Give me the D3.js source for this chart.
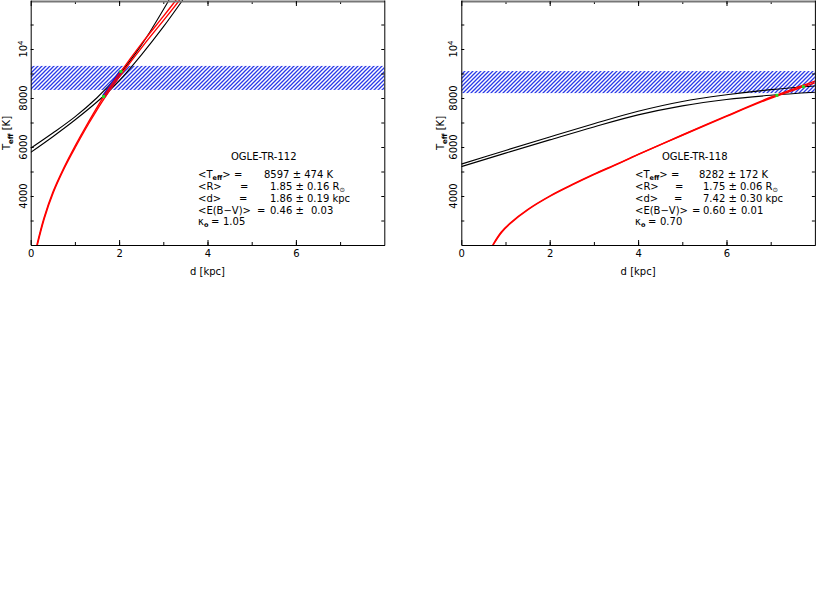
<!DOCTYPE html>
<html><head><meta charset="utf-8">
<script src="https://cdn.jsdelivr.net/npm/d3@7"></script>
<style>
body{margin:0;background:#fff}
svg{display:block}
text{font-family:"DejaVu Sans",sans-serif;fill:#000}
</style>
</head><body>
<svg id="c" width="817" height="599"></svg>
<script>
// ---------- shared axis data ----------
const dDomain = [0, 8];
const tDomain = [2000, 12000];
const dMajorTicks = [0, 2, 4, 6];
const dMinorTicks = [1, 2, 3, 4, 5, 6, 7];
const tMajorTicks = [4000, 6000, 8000, 10000];
const tMajorLabels = ["4000", "6000", "8000", "10|4"];
const tMinorTicks = [3000, 4000, 5000, 6000, 7000, 8000, 9000, 10000, 11000];
const xLabel = "d [kpc]";

// ---------- OGLE-TR-112 (left) ----------
const a_blackUpper = [[0,5950],[0.5,6570],[1.0,7230],[1.5,8010],[2.0,8960],[2.5,10150],[2.8,11000],[3.13,12000]];
const a_blackLower = [[0,5780],[0.5,6420],[1.0,7100],[1.6,8000],[2.0,8700],[2.5,9750],[3.0,10900],[3.44,12000]];
const a_red1 = [[0.14,2000],[0.3,3100],[0.5,4150],[0.75,5150],[1.0,6030],[1.3,7000],[1.65,8060],[2.04,9080],[2.5,10200],[3.0,11330],[3.29,12000]];
const a_red2 = [[0.15,2000],[0.31,3090],[0.51,4130],[0.76,5130],[1.02,6020],[1.32,6980],[1.68,8030],[2.08,9040],[2.55,10150],[3.06,11290],[3.37,12000]];
const a_band = [8330, 9310];
const a_solution = [[1.65,8060],[2.04,9080]];
const a_name = "OGLE-TR-112";
const a_teff = "8597 ± 474 K";
const a_r = "1.85 ± 0.16 R";
const a_d = "1.86 ± 0.19 kpc";
const a_ebv = ["0.46 ±", "0.03"];
const a_kappa = "1.05";

// ---------- OGLE-TR-118 (right) ----------
const b_blackUpper = [[0,5300],[1,5860],[2,6410],[3,6950],[4,7460],[5,7860],[6,8130],[7,8340],[8,8490]];
const b_blackLower = [[0,5200],[1,5750],[2,6290],[3,6820],[4,7310],[5,7680],[6,7940],[7,8110],[8,8232]];
const b_red1 = [[0.71,2000],[0.9,2520],[1.1,2890],[1.5,3450],[2.0,4000],[2.5,4460],[3.0,4890],[3.5,5290],[4.0,5700],[5.0,6480],[6.0,7250],[7.0,7990],[7.74,8461],[8.0,8620]];
const b_red2 = [[0.72,2000],[0.91,2510],[1.11,2880],[1.51,3440],[2.01,3990],[2.51,4450],[3.01,4880],[3.51,5285],[4.01,5700],[5.0,6490],[6.0,7270],[7.0,8030],[7.74,8520],[8.0,8690]];
const b_band = [8200, 9100];
const b_solution = [[7.14,8110],[7.74,8461]];
const b_name = "OGLE-TR-118";
const b_teff = "8282 ± 172 K";
const b_r = "1.75 ± 0.06 R";
const b_d = "7.42 ± 0.30 kpc";
const b_ebv = ["0.60 ±", "0.01"];
const b_kappa = "0.70";

// ---------- drawing ----------
const svg = d3.select("#c");
const defs = svg.append("defs");
const pat = defs.append("pattern").attr("id","hatch").attr("patternUnits","userSpaceOnUse")
  .attr("width",4).attr("height",4);
pat.append("path").attr("d","M-1,1 L1,-1 M0,4 L4,0 M3,5 L5,3")
  .attr("stroke","#2a3ae8").attr("stroke-width",1.3).attr("fill","none");

const y = d3.scaleLinear().domain(tDomain).range([245, 0]);

function panel(cfg) {
  const x = d3.scaleLinear().domain(dDomain).range([cfg.x0, cfg.x1]);
  const g = svg.append("g");
  const cid = "clip" + cfg.id;
  defs.append("clipPath").attr("id", cid).append("rect")
    .attr("x", cfg.x0).attr("y", 0).attr("width", cfg.x1 - cfg.x0).attr("height", 245);
  const plot = g.append("g").attr("clip-path", `url(#${cid})`);

  plot.append("rect").attr("x", cfg.x0).attr("width", cfg.x1 - cfg.x0)
    .attr("y", y(cfg.band[1])).attr("height", y(cfg.band[0]) - y(cfg.band[1]))
    .attr("fill", "url(#hatch)");

  const line = d3.line().x(d => x(d[0])).y(d => y(d[1])).curve(d3.curveCatmullRom.alpha(0.5));
  [cfg.blackUpper, cfg.blackLower].forEach(s =>
    plot.append("path").attr("d", line(s)).attr("fill","none").attr("stroke","#000").attr("stroke-width",1.1));
  if (cfg.blueSeg) plot.append("path").attr("d", d3.line().x(d=>x(d[0])).y(d=>y(d[1]))(cfg.solution))
    .attr("stroke","#1c1cc8").attr("stroke-width",4).attr("fill","none");
  [cfg.red1, cfg.red2].forEach(s =>
    plot.append("path").attr("d", line(s)).attr("fill","none").attr("stroke","#ff0000").attr("stroke-width",1.4));
  plot.selectAll("rect.sol").data(cfg.solution).join("rect").attr("class","sol")
    .attr("x", d => x(d[0]) - 1.5).attr("y", d => y(d[1]) - 1.5).attr("width",3).attr("height",3)
    .attr("fill","#22dd22");

  const styleAx = sel => { sel.selectAll("line").attr("stroke","#000"); sel.select(".domain").attr("stroke","#000"); sel.selectAll("text").remove(); };
  g.append("g").attr("transform","translate(0,245)")
    .call(d3.axisBottom(x).tickValues(dMinorTicks).tickSize(-3).tickSizeOuter(0)).call(styleAx);
  const bx = g.append("g").attr("transform","translate(0,245)")
    .call(d3.axisBottom(x).tickValues(dMajorTicks).tickSize(-5).tickSizeOuter(0).tickPadding(5).tickFormat(d3.format("d")));
  bx.selectAll("line").attr("stroke","#000"); bx.select(".domain").attr("stroke","#000");
  bx.selectAll("text").attr("font-size",10).attr("font-family","DejaVu Sans").attr("fill","#000");
  g.append("g").attr("transform","translate(0,1)")
    .call(d3.axisTop(x).tickValues(dMinorTicks).tickSize(-3).tickSizeOuter(0)).call(styleAx);
  const tx = g.append("g").attr("transform","translate(0,1)")
    .call(d3.axisTop(x).tickValues(dMajorTicks).tickSize(-5).tickSizeOuter(0)).call(styleAx);
  tx.select(".domain").attr("stroke","#777").attr("stroke-width",2);
  g.append("g").attr("transform",`translate(${cfg.x0},0)`)
    .call(d3.axisLeft(y).tickValues(tMinorTicks).tickSize(-3).tickSizeOuter(0)).call(styleAx);
  g.append("g").attr("transform",`translate(${cfg.x1},0)`)
    .call(d3.axisRight(y).tickValues(tMinorTicks).tickSize(-3).tickSizeOuter(0)).call(styleAx);

  tMajorTicks.forEach((t, i) => {
    const parts = tMajorLabels[i].split("|");
    const tt = g.append("text").attr("transform", `translate(${cfg.ytx},${y(t)}) rotate(-90)`)
      .attr("text-anchor","middle").attr("font-size",10);
    tt.append("tspan").text(parts[0]);
    if (parts[1]) tt.append("tspan").attr("dy",-4).attr("font-size",7).text(parts[1]);
  });
  const yl = g.append("text").attr("transform", `translate(${cfg.ylx},133) rotate(-90)`)
    .attr("text-anchor","middle").attr("font-size",10);
  yl.append("tspan").text("T");
  yl.append("tspan").attr("dy",3).attr("font-size",7).attr("font-weight","bold").text("eff");
  yl.append("tspan").attr("dy",-3).text(" [K]");
  g.append("text").attr("x", x(4)).attr("y", 275).attr("text-anchor","middle").attr("font-size",10).text(xLabel);

  const info = g.append("g").attr("font-size",10);
  const T = (xx, yy, s) => info.append("text").attr("x", xx).attr("y", yy).text(s);
  T(cfg.tx.title, 159.5, cfg.name);
  const r1 = info.append("text").attr("x", cfg.tx.lab).attr("y", 178);
  r1.append("tspan").text("<T"); r1.append("tspan").attr("dy",2.2).attr("font-size",6.5).attr("font-weight","bold").text("eff");
  r1.append("tspan").attr("dy",-2.2).text(">");
  T(cfg.tx.eq1, 178, "=");
  T(cfg.tx.v1, 178, cfg.teff);
  T(cfg.tx.lab, 190, "<R>");
  T(cfg.tx.eq2, 190, "=");
  const rr = info.append("text").attr("x", cfg.tx.v2).attr("y", 190);
  rr.append("tspan").text(cfg.r); rr.append("tspan").attr("dy",2.2).attr("font-size",6.5).text("⊙");
  T(cfg.tx.lab, 202, "<d>");
  T(cfg.tx.eq3, 202, "=");
  T(cfg.tx.v2, 202, cfg.d);
  T(cfg.tx.lab, 213.5, "<E(B−V)>");
  T(cfg.tx.eq4, 213.5, "=");
  T(cfg.tx.v2, 213.5, cfg.ebv[0]);
  T(cfg.tx.v4b, 213.5, cfg.ebv[1]);
  const k = info.append("text").attr("x", cfg.tx.lab).attr("y", 225);
  k.append("tspan").text("κ"); k.append("tspan").attr("dy",2.2).attr("font-size",6.5).attr("font-weight","bold").text("o");
  T(cfg.tx.eq5, 225, "=");
  T(cfg.tx.v5, 225, cfg.kappa);
}

panel({id:"a", x0:30.7, x1:384.3, ytx:27, ylx:10,
  blackUpper:a_blackUpper, blackLower:a_blackLower, red1:a_red1, red2:a_red2,
  band:a_band, solution:a_solution, blueSeg:true,
  name:a_name, teff:a_teff, r:a_r, d:a_d, ebv:a_ebv, kappa:a_kappa,
  tx:{title:231, lab:198, eq1:234, eq2:240, eq3:239, eq4:257, eq5:211, v1:264, v2:270, v4b:311, v5:223}});

panel({id:"b", x0:461.3, x1:814.9, ytx:457, ylx:444,
  blackUpper:b_blackUpper, blackLower:b_blackLower, red1:b_red1, red2:b_red2,
  band:b_band, solution:b_solution, blueSeg:false,
  name:b_name, teff:b_teff, r:b_r, d:b_d, ebv:b_ebv, kappa:b_kappa,
  tx:{title:662, lab:635, eq1:671, eq2:675, eq3:674, eq4:692, eq5:648, v1:699, v2:703, v4b:741, v5:660}});
</script>
</body></html>
